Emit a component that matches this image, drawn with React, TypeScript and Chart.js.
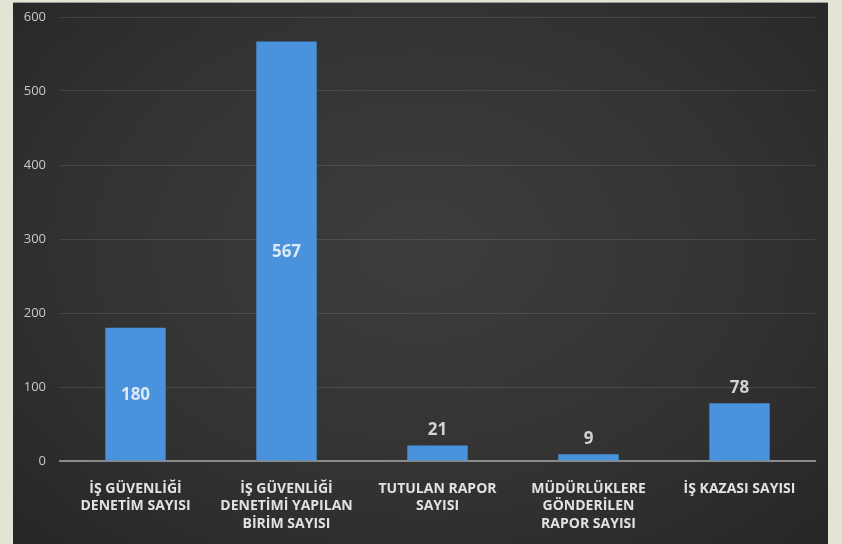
import React, { useEffect, useRef } from "react";
import { Chart, registerables } from "chart.js";

Chart.register(...registerables);

const categories: string[][] = [
  ["İŞ GÜVENLİĞİ", "DENETİM SAYISI"],
  ["İŞ GÜVENLİĞİ", "DENETİMİ YAPILAN", "BİRİM SAYISI"],
  ["TUTULAN RAPOR", "SAYISI"],
  ["MÜDÜRLÜKLERE", "GÖNDERİLEN", "RAPOR SAYISI"],
  ["İŞ KAZASI SAYISI"],
];
const values: number[] = [180, 567, 21, 9, 78];
const yTicks: number[] = [0, 100, 200, 300, 400, 500, 600];

const valueLabelPlugin = {
  id: "valueLabels",
  afterDatasetsDraw(chart: any) {
    const ctx = chart.ctx;
    const meta = chart.getDatasetMeta(0);
    ctx.save();
    ctx.font = "bold 17px 'Open Sans', sans-serif";
    ctx.textAlign = "center";
    meta.data.forEach((bar: any, i: number) => {
      const v = chart.data.datasets[0].data[i];
      const h = bar.base - bar.y;
      if (h > 90) {
        ctx.fillStyle = "#dce8f6";
        ctx.textBaseline = "middle";
        ctx.fillText(String(v), bar.x, (bar.y + bar.base) / 2 + 1);
      } else {
        ctx.fillStyle = "#d2d2d2";
        ctx.textBaseline = "bottom";
        ctx.fillText(String(v), bar.x, bar.y - 7);
      }
    });
    ctx.restore();
  },
};

export default function App() {
  const ref = useRef<HTMLCanvasElement | null>(null);
  useEffect(() => {
    if (!ref.current) return;
    const chart = new Chart(ref.current, {
      type: "bar",
      data: {
        labels: categories,
        datasets: [
          {
            data: values,
            backgroundColor: "#4a92dc",
            borderWidth: 0,
            barPercentage: 0.4,
            categoryPercentage: 1,
          },
        ],
      },
      options: {
        responsive: false,
        animation: false,
        layout: { padding: { left: 0, right: 13, top: 14, bottom: 0 } },
        plugins: {
          legend: { display: false },
          tooltip: { enabled: false },
        },
        scales: {
          x: {
            grid: { display: false },
            border: { display: true, color: "#8a8a8a", width: 2 },
            ticks: {
              color: "#e2e2e2",
              font: { family: "'Open Sans', sans-serif", size: 14, weight: "bold", lineHeight: 1.25 },
              padding: 11,
              maxRotation: 0,
              autoSkip: false,
            },
            afterFit: (s: any) => {
              s.height = 83;
            },
          },
          y: {
            min: 0,
            max: 600,
            border: { display: false },
            grid: { color: "rgba(255,255,255,0.10)", drawTicks: false, lineWidth: 1 },
            afterBuildTicks: (s: any) => {
              s.ticks = yTicks.map((v) => ({ value: v }));
            },
            ticks: {
              color: "#c8c8c8",
              font: { family: "'Open Sans', sans-serif", size: 13 },
              padding: 14,
            },
            afterFit: (s: any) => {
              s.width = 47;
              s.paddingTop = 0;
            },
          },
        },
      },
      plugins: [valueLabelPlugin],
    });
    return () => chart.destroy();
  }, []);

  return (
    <div
      style={{
        position: "fixed",
        left: 0,
        top: 0,
        width: 842,
        height: 544,
        background: "#e2e5d6",
        overflow: "hidden",
      }}
    >
      <div
        style={{
          position: "absolute",
          left: 13,
          top: 2,
          width: 815,
          height: 542,
          background: "radial-gradient(ellipse at 50% 45%, #3d3d3d 0%, #333333 55%, #262626 100%)",
          borderTop: "1px solid #9a9a9a",
          boxSizing: "border-box",
        }}
      >
        <canvas ref={ref} width={815} height={541} style={{ display: "block" }} />
      </div>
    </div>
  );
}
